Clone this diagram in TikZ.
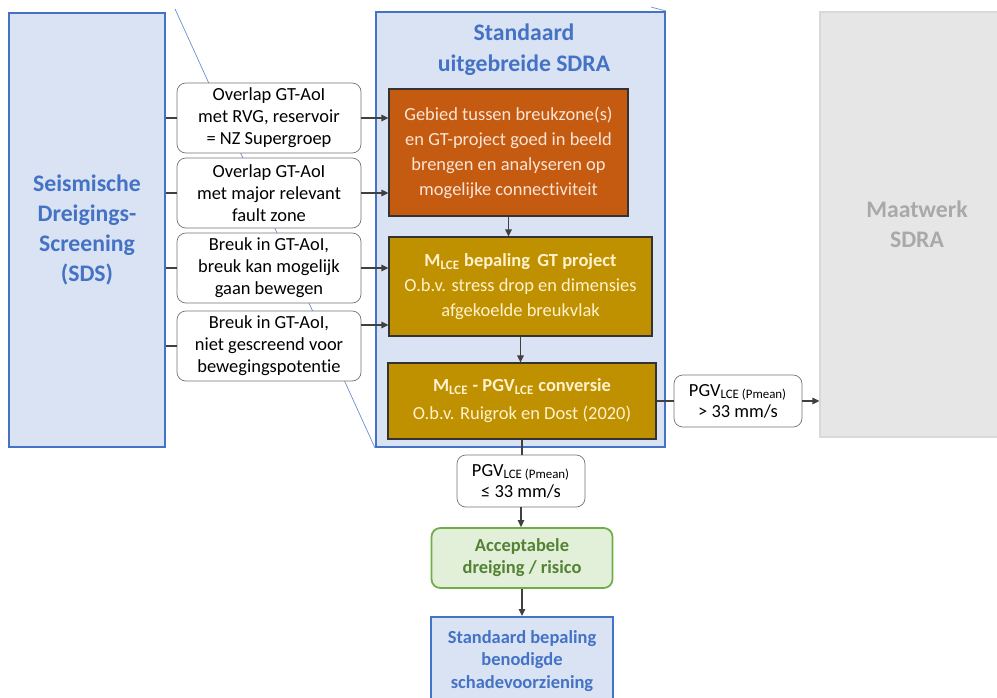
\documentclass[tikz,border=0pt]{standalone}
\usepackage{fontspec}
\setmainfont{Carlito}[Ligatures=NoCommon]
\usetikzlibrary{arrows.meta,calc,positioning,backgrounds}
\definecolor{sdsblue}{HTML}{4472C4}
\definecolor{sdsfill}{HTML}{DAE3F3}
\definecolor{rust}{HTML}{C55A11}
\definecolor{rusttext}{HTML}{FBE5D6}
\definecolor{ochre}{HTML}{BF9000}
\definecolor{ochretext}{HTML}{FFF2CC}
\definecolor{leaf}{HTML}{548235}
\definecolor{leafline}{HTML}{70AD47}
\definecolor{leaffill}{HTML}{E2F0D9}
\definecolor{mist}{HTML}{E7E6E6}
\definecolor{mistline}{HTML}{D9D9D9}
\definecolor{misttext}{HTML}{A9A9A9}
\newcommand{\lce}{\textsubscript{LCE}}
\newcommand{\pmean}{\textsubscript{LCE (Pmean)}}
\tikzset{panel/.style={draw=sdsblue,line width=1.1pt,fill=sdsfill,text=sdsblue,align=center,inner sep=0pt,
    font=\fontsize{13.5}{17}\selectfont\bfseries},
  grey/.style={panel,draw=mistline,line width=0.6pt,fill=mist,text=misttext},
  crit/.style={draw=black!55,fill=white,rounded corners=5pt,align=center,inner sep=1pt,
    minimum width=36.8mm,minimum height=14mm,font=\fontsize{10.5}{12.5}\selectfont},
  gate/.style={crit,minimum width=25.6mm,minimum height=10.4mm,font=\fontsize{10.5}{12}\selectfont},
  task/.style={draw=black!80,line width=0.6pt,align=center,inner sep=1pt,font=\fontsize{10.5}{14.2}\selectfont},
  rustbox/.style={task,fill=rust,text=rusttext},
  ochrebox/.style={task,fill=ochre,text=ochretext},
  okbox/.style={draw=leafline,line width=1pt,fill=leaffill,text=leaf,rounded corners=5pt,align=center,
    font=\fontsize{10.5}{12.5}\selectfont\bfseries},
  link/.style={draw=black!75,line width=0.6pt},
  arr/.style={link,-{Triangle[length=1.4mm,width=1.3mm]}}}
\begin{document}
\begin{tikzpicture}[x=0.2mm,y=-0.2mm]
\useasboundingbox (0,0) rectangle (997,698);
\clip (0,0) rectangle (997,698);
% panels
\node[panel,minimum width=31.2mm,minimum height=86.8mm] (sds) at (87,230)
  {Seismische\\Dreigings-\\Screening\\(SDS)};
\node[panel,minimum width=57.8mm,minimum height=87mm] (sdra) at (520.5,229.5) {};
\node[text=sdsblue,align=center,font=\fontsize{13.5}{17.6}\selectfont\bfseries] (title) at (524,50)
  {Standaard\\uitgebreide SDRA};
\node[grey,minimum width=38.8mm,minimum height=85mm] (maat) at (917,224.5) {Maatwerk\\SDRA};
\begin{scope}[on background layer]
\draw[sdsblue!80,line width=0.4pt] (sdra.south west) -- ++(-200,-439);
\draw[sdsblue!80,line width=0.4pt] (sdra.north east) -- ++(-15,-4);
\end{scope}
% criteria
\node[crit] (c1) at (269,118) {Overlap GT-AoI\\met RVG, reservoir\\= NZ Supergroep};
\node[crit] (c2) at (269,193) {Overlap GT-AoI\\met major relevant\\fault zone};
\node[crit] (c3) at (269,268) {Breuk in GT-AoI,\\breuk kan mogelijk\\gaan bewegen};
\node[crit] (c4) at (269,346) {Breuk in GT-AoI,\\niet gescreend voor\\bewegingspotentie};
% SDRA steps
\node[rustbox,minimum width=47.8mm,minimum height=25.4mm] (gebied) at (508.5,152.5)
  {Gebied tussen breukzone(s)\\en GT-project goed in beeld\\brengen en analyseren op\\mogelijke connectiviteit};
\node[ochrebox,minimum width=52.6mm,minimum height=19.8mm] (mlce) at (520.5,286.5)
  {\textbf{M\lce{} bepaling\, GT project}\\O.b.v. stress drop en dimensies\\afgekoelde breukvlak};
\node[ochrebox,minimum width=53.6mm,minimum height=15.2mm,font=\fontsize{10.5}{16}\selectfont] (conv) at (522,401)
  {\textbf{M\lce{} - PGV\lce{} conversie}\\O.b.v. Ruigrok en Dost (2020)};
% outcomes
\node[gate] (laag) at (521,481) {PGV\pmean\\≤ 33 mm/s};
\node[gate] (hoog) at (738,401) {PGV\pmean\\> 33 mm/s};
\node[okbox,minimum width=36.2mm,minimum height=12mm] (accept) at (522,558) {Acceptabele\\dreiging / risico};
\node[panel,minimum width=36.4mm,minimum height=17.6mm,font=\fontsize{10.5}{13}\selectfont\bfseries] (schade) at (522,661)
  {Standaard bepaling\\benodigde\\schadevoorziening};
% connectors
\foreach \c in {c1,c2,c3,c4}
  \draw[link] (sds.east |- \c.west) -- (\c.west);
\draw[arr] (c1.east) -- (c1.east -| gebied.west);
\draw[arr] (c2.east) -- (c2.east -| gebied.west);
\draw[arr] (c3.east) -- (c3.east -| mlce.west);
\coordinate (c4out) at ([yshift=4.2mm]c4.east);
\draw[arr] (c4out) -- (c4out -| mlce.west);
\draw[arr] (gebied.south) -- (gebied.south |- mlce.north);
\draw[arr] (mlce.south) -- (mlce.south |- conv.north);
\draw[link] (conv.south) -- (conv.south |- laag.north);
\draw[arr] (laag.south) -- (laag.south |- accept.north);
\draw[arr] (accept.south) -- (accept.south |- schade.north);
\draw[link] (conv.east) -- (hoog.west);
\draw[arr] (hoog.east) -- (hoog.east -| maat.west);
\end{tikzpicture}
\end{document}
